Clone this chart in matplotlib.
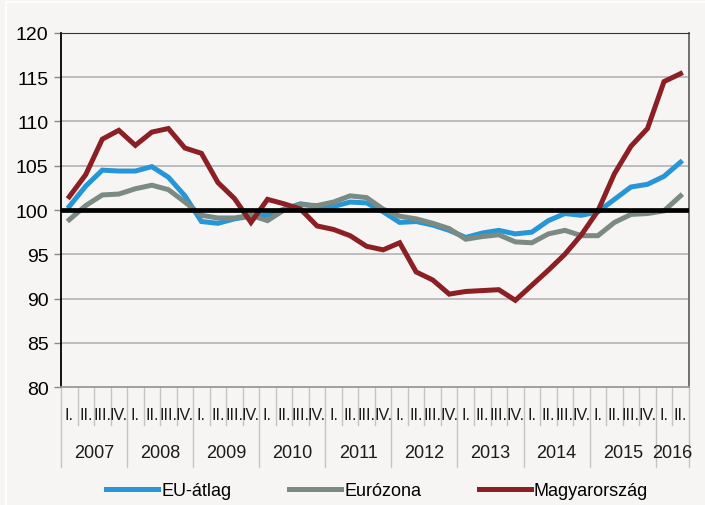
import matplotlib
matplotlib.use('Agg')
import matplotlib.pyplot as plt
import matplotlib.transforms as mtransforms
from matplotlib.patches import Rectangle
import numpy as np

# quarterly index, 2007 Q1 .. 2016 Q2
years = ['2007', '2008', '2009', '2010', '2011', '2012', '2013', '2014', '2015', '2016']
quarters = ['I.', 'II.', 'III.', 'IV.']

eu_atlag = [100.4, 102.7, 104.5, 104.4, 104.4, 104.9, 103.7, 101.6,
            98.7, 98.5, 99.0, 99.3, 99.4, 100.1, 100.7, 100.4,
            100.4, 100.9, 100.8, 99.8, 98.6, 98.7, 98.3, 97.7,
            96.9, 97.4, 97.7, 97.3, 97.5, 98.8, 99.6, 99.4,
            99.8, 101.2, 102.6, 102.9, 103.8, 105.4]
eurozona = [98.9, 100.5, 101.7, 101.8, 102.4, 102.8, 102.3, 100.9,
            99.4, 99.1, 99.1, 99.4, 98.8, 100.0, 100.6, 100.5,
            100.9, 101.6, 101.4, 100.1, 99.3, 99.0, 98.5, 97.9,
            96.7, 97.0, 97.2, 96.4, 96.3, 97.3, 97.7, 97.1,
            97.1, 98.6, 99.5, 99.6, 99.9, 101.6]
magyar = [101.5, 104.0, 108.0, 109.0, 107.3, 108.8, 109.2, 107.0,
          106.4, 103.1, 101.3, 98.6, 101.2, 100.7, 100.1, 98.2,
          97.8, 97.1, 95.9, 95.5, 96.3, 93.0, 92.1, 90.5,
          90.8, 90.9, 91.0, 89.8, 91.5, 93.2, 95.0, 97.2,
          99.9, 104.1, 107.2, 109.2, 114.5, 115.4]

FONT = ['Liberation Sans Narrow', 'Liberation Sans', 'DejaVu Sans']
plt.rcParams['font.family'] = FONT

bg = '#f6f5f3'
fig = plt.figure(figsize=(7.05, 5.06), dpi=100, facecolor=bg)
# thin white frame like the source slide
fig.add_artist(Rectangle((6 / 705, -0.05), 1.0, 1.05 - 3 / 506, transform=fig.transFigure,
                         fill=False, edgecolor='white', lw=1.2))
ax = fig.add_axes([0.0865, 0.233, 0.8905, 0.700], facecolor=bg)

n = len(magyar)
x = np.arange(n)

for v in [85, 90, 95, 105, 110, 115]:
    ax.axhline(v, color='#b4b4b4', lw=1.2, zorder=1)

ax.plot(x, eu_atlag, color='#2696d6', lw=3.6, label='EU-átlag', zorder=3, solid_joinstyle='miter')
ax.plot(x, eurozona, color='#7b8b84', lw=3.6, label='Eurózona', zorder=3, solid_joinstyle='miter')
ax.plot(x, magyar, color='#8b1f24', lw=3.6, label='Magyarország', zorder=4, solid_joinstyle='miter')
ax.axhline(100, color='black', lw=3.4, zorder=5)

ax.set_xlim(-0.5, n - 0.5)
ax.set_ylim(80, 120)
ax.set_yticks(range(80, 121, 5))
ax.tick_params(axis='y', labelsize=14, length=5, color='#888888', width=1, pad=4)
ax.set_xticks([])

ax.spines['left'].set_color('black')
ax.spines['left'].set_linewidth(1.3)
ax.spines['top'].set_color('#333333')
ax.spines['right'].set_color('#666666')
ax.spines['right'].set_linewidth(1.3)
ax.spines['bottom'].set_color('#999999')
ax.spines['bottom'].set_linewidth(1.3)

# two-level category axis
trans = mtransforms.blended_transform_factory(ax.transData, ax.transAxes)
for i in range(n + 1):
    pos = i - 0.5
    bottom = -0.226 if (i % 4 == 0 or i == n) else -0.107
    ax.plot([pos, pos], [0, bottom], color='#c4c4c4', lw=1, transform=trans, clip_on=False)
for i in range(n):
    ax.text(i, -0.076, quarters[i % 4], transform=trans, ha='center', va='center',
            fontsize=11.5, color='#1a1a1a')
for k, yr in enumerate(years):
    last = min(4 * k + 3, n - 1)
    ax.text((4 * k + last) / 2, -0.184, yr, transform=trans, ha='center', va='center',
            fontsize=13, color='#1a1a1a')

fig.legend(loc='center', bbox_to_anchor=(0.535, 0.028), ncol=3, frameon=False,
           fontsize=13, handlelength=2.9, handletextpad=0.15, columnspacing=3.2)

fig.savefig('out.png', facecolor=bg)
